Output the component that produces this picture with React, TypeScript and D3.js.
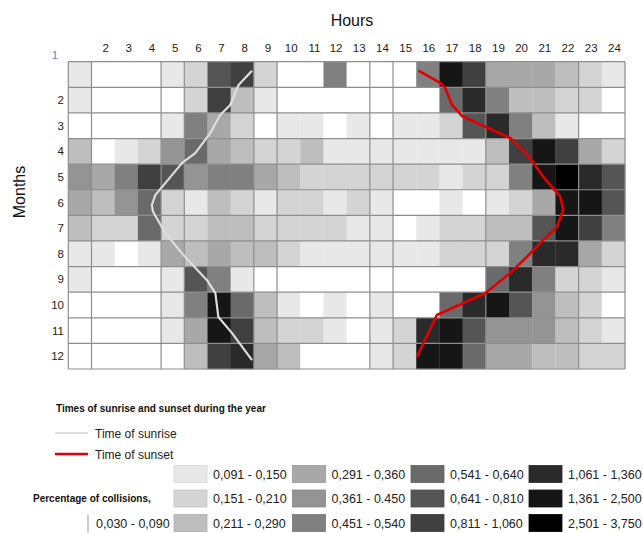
import React, { useEffect, useRef } from 'react';
import * as d3 from 'd3';

const hours = d3.range(1, 25);
const months = d3.range(1, 13);

// percentage of collisions per hour (1..24), one array per month
const jan = [0.12, 0.06, 0.06, 0.06, 0.12, 0.18, 0.72, 0.93, 0.18, 0.06, 0.06, 0.5, 0.06, 0.06, 0.06, 0.5, 1.9, 0.93, 0.33, 0.33, 0.33, 0.25, 0.18, 0.12];
const feb = [0.12, 0.06, 0.06, 0.06, 0.06, 0.18, 0.93, 0.25, 0.12, 0.06, 0.06, 0.06, 0.06, 0.06, 0.06, 0.06, 0.59, 1.2, 0.5, 0.25, 0.25, 0.18, 0.18, 0.06];
const mar = [0.06, 0.06, 0.06, 0.06, 0.12, 0.5, 0.33, 0.18, 0.06, 0.12, 0.12, 0.06, 0.12, 0.06, 0.12, 0.12, 0.18, 0.72, 1.2, 0.5, 0.25, 0.12, 0.06, 0.06];
const apr = [0.25, 0.06, 0.12, 0.18, 0.4, 0.59, 0.33, 0.25, 0.18, 0.18, 0.25, 0.12, 0.12, 0.12, 0.12, 0.12, 0.12, 0.12, 0.25, 0.93, 1.9, 0.93, 0.33, 0.18];
const may = [0.4, 0.33, 0.5, 0.93, 0.72, 0.4, 0.5, 0.5, 0.33, 0.25, 0.18, 0.18, 0.18, 0.18, 0.18, 0.18, 0.12, 0.18, 0.18, 0.5, 1.9, 3.1, 1.2, 0.72];
const jun = [0.33, 0.25, 0.4, 0.59, 0.18, 0.12, 0.25, 0.18, 0.12, 0.18, 0.18, 0.12, 0.18, 0.12, 0.06, 0.06, 0.12, 0.06, 0.12, 0.18, 0.33, 1.9, 1.9, 0.72];
const jul = [0.25, 0.18, 0.18, 0.59, 0.18, 0.18, 0.25, 0.25, 0.18, 0.18, 0.18, 0.18, 0.12, 0.12, 0.06, 0.12, 0.18, 0.18, 0.25, 0.25, 0.72, 1.9, 0.93, 0.5];
const aug = [0.12, 0.12, 0.06, 0.12, 0.33, 0.25, 0.33, 0.25, 0.25, 0.18, 0.12, 0.12, 0.12, 0.12, 0.12, 0.12, 0.18, 0.18, 0.18, 0.5, 1.2, 1.2, 0.33, 0.18];
const sep = [0.12, 0.06, 0.06, 0.06, 0.12, 0.72, 0.5, 0.12, 0.06, 0.06, 0.06, 0.06, 0.06, 0.06, 0.06, 0.06, 0.06, 0.06, 0.59, 1.2, 0.5, 0.18, 0.18, 0.12];
const oct = [0.06, 0.06, 0.06, 0.06, 0.12, 0.5, 1.9, 0.59, 0.25, 0.12, 0.06, 0.12, 0.06, 0.12, 0.06, 0.06, 0.59, 1.2, 1.9, 0.72, 0.4, 0.25, 0.18, 0.06];
const nov = [0.06, 0.06, 0.06, 0.06, 0.12, 0.33, 1.9, 0.93, 0.25, 0.18, 0.18, 0.12, 0.06, 0.12, 0.18, 1.2, 1.9, 0.72, 0.4, 0.4, 0.4, 0.25, 0.18, 0.12];
const dec = [0.06, 0.06, 0.06, 0.06, 0.06, 0.25, 0.93, 1.2, 0.33, 0.25, 0.06, 0.06, 0.06, 0.12, 0.18, 1.9, 1.9, 0.59, 0.33, 0.33, 0.25, 0.25, 0.18, 0.18];
const values = [jan, feb, mar, apr, may, jun, jul, aug, sep, oct, nov, dec];

// class breaks and their labels
const breaks = [0.091, 0.151, 0.211, 0.291, 0.361, 0.451, 0.541, 0.641, 0.811, 1.061, 1.361, 2.501];
const shades = ['#ffffff', '#e8e8e8', '#d4d4d4', '#bebebe', '#a8a8a8', '#949494', '#808080', '#6a6a6a', '#555555', '#404040', '#2a2a2a', '#161616', '#000000'];
const classLabels = ['0,030 - 0,090', '0,091 - 0,150', '0,151 - 0,210', '0,211 - 0,290', '0,291 - 0,360', '0,361 - 0.450', '0,451 - 0,540', '0,541 - 0,640', '0,641 - 0,810', '0,811 - 1,060', '1,061 - 1,360', '1,361 - 2,500', '2,501 - 3,750'];

// sunrise / sunset: [position in months from top of Jan, hour]
const sunrise = [[0.35, 7.92], [0.91, 7.34], [1.69, 6.98], [2.08, 6.55], [2.79, 6.12], [3.57, 5.47], [3.96, 4.9], [5.21, 3.75], [5.6, 3.6], [5.85, 3.65], [6.69, 4.18], [7.55, 4.96], [8.53, 5.98], [9.04, 6.34], [9.97, 6.47], [10.6, 7.06], [11.65, 7.92]];
const sunset = [[0.35, 15.1], [0.83, 16.03], [1.03, 16.25], [1.69, 16.54], [2.12, 16.97], [2.54, 17.97], [2.98, 19.05], [3.76, 19.91], [4.49, 20.47], [5.27, 21.21], [5.79, 21.34], [6.45, 21.06], [7.08, 20.34], [7.62, 19.77], [8.25, 19.05], [8.79, 18.32], [9.04, 17.97], [9.89, 15.89], [11.52, 15.03]];

// full-height grid lines sit only at these hour boundaries
const vLines = [0, 1, 4, 5, 8, 9, 13, 14, 18, 22, 24];

const font = 'Liberation Sans, Arial, sans-serif';

export default function App() {
  const ref = useRef<SVGSVGElement>(null);

  useEffect(() => {
    const svg = d3.select(ref.current);
    svg.selectAll('*').remove();

    const x = d3.scaleLinear().domain([0, 24]).range([68.3, 625]);
    const y = d3.scaleLinear().domain([0, 12]).range([61.7, 369]);
    const color = d3.scaleThreshold<number, string>().domain(breaks).range(shades);
    const cw = x(1) - x(0);
    const ch = y(1) - y(0);

    const cells = [];
    values.forEach((row, mi) => row.forEach((v, hi) => cells.push({ m: mi, h: hi, v })));

    svg.append('g')
      .selectAll('rect')
      .data(cells)
      .join('rect')
      .attr('x', d => x(d.h))
      .attr('y', d => y(d.m))
      .attr('width', cw + 0.3)
      .attr('height', ch + 0.3)
      .attr('fill', d => color(d.v));

    const grid = svg.append('g').attr('stroke', '#8e8e8e').attr('stroke-width', 1.2);
    d3.range(0, 13).forEach(m => {
      grid.append('line').attr('x1', x(0)).attr('x2', x(24)).attr('y1', y(m)).attr('y2', y(m));
    });
    vLines.forEach(h => {
      grid.append('line').attr('x1', x(h)).attr('x2', x(h)).attr('y1', y(0)).attr('y2', y(12));
    });

    const line = d3.line<number[]>().x(d => x(d[1])).y(d => y(d[0]));
    svg.append('path').attr('d', line(sunrise)).attr('fill', 'none')
      .attr('stroke', '#dddddd').attr('stroke-width', 2.2).attr('stroke-linejoin', 'round');
    svg.append('path').attr('d', line(sunset)).attr('fill', 'none')
      .attr('stroke', '#e30000').attr('stroke-width', 2.6).attr('stroke-linejoin', 'round');

    // hour labels
    svg.append('g')
      .selectAll('text')
      .data(hours.slice(1))
      .join('text')
      .attr('x', d => x(d - 0.5) + (d < 12 ? 2.5 : 1))
      .attr('y', 52)
      .attr('text-anchor', 'middle')
      .attr('font-family', font)
      .attr('font-size', 11.5)
      .attr('fill', '#222')
      .text(d => d);

    svg.append('text').attr('x', 55).attr('y', 59).attr('text-anchor', 'middle')
      .attr('font-family', font).attr('font-size', 11.5).attr('fill', '#4a8fd0').text('1');

    // month labels
    svg.append('g')
      .selectAll('text')
      .data(months.slice(1))
      .join('text')
      .attr('x', 64)
      .attr('y', d => y(d - 0.5) + 4)
      .attr('text-anchor', 'end')
      .attr('font-family', font)
      .attr('font-size', 11.5)
      .attr('fill', '#222')
      .text(d => d);

    svg.append('text').attr('x', 352).attr('y', 26).attr('text-anchor', 'middle')
      .attr('font-family', font).attr('font-size', 16).attr('fill', '#111').text('Hours');
    svg.append('text').attr('transform', 'translate(25,192) rotate(-90)').attr('text-anchor', 'middle')
      .attr('font-family', font).attr('font-size', 16).attr('fill', '#111').text('Months');

    // legend
    const lg = svg.append('g').attr('font-family', font);
    lg.append('text').attr('x', 56).attr('y', 411.5).attr('font-size', 10).attr('font-weight', 'bold')
      .attr('fill', '#111').text('Times of sunrise and sunset during the year');
    lg.append('line').attr('x1', 55).attr('x2', 88).attr('y1', 433).attr('y2', 433)
      .attr('stroke', '#dddddd').attr('stroke-width', 2.2);
    lg.append('text').attr('x', 95).attr('y', 437.5).attr('font-size', 12).attr('fill', '#222').text('Time of sunrise');
    lg.append('line').attr('x1', 55).attr('x2', 88).attr('y1', 454).attr('y2', 454)
      .attr('stroke', '#e30000').attr('stroke-width', 2.6);
    lg.append('text').attr('x', 95).attr('y', 458.5).attr('font-size', 12).attr('fill', '#222').text('Time of sunset');
    lg.append('text').attr('x', 33).attr('y', 501.5).attr('font-size', 10).attr('font-weight', 'bold')
      .attr('fill', '#111').text('Percentage of collisions,');

    const colX = [174, 292.5, 411, 529];
    const rowY = [465.5, 490, 514.5];
    const items = d3.range(1, 13).map(i => ({
      i,
      bx: colX[Math.floor((i - 1) / 3)],
      by: rowY[(i - 1) % 3],
    }));
    items.unshift({ i: 0, bx: 55, by: rowY[2] });

    const it = lg.selectAll('g.item').data(items).join('g').attr('class', 'item');
    it.append('rect')
      .attr('x', d => d.bx).attr('y', d => d.by)
      .attr('width', 33).attr('height', 17)
      .attr('fill', d => shades[d.i])
      .attr('stroke', d => d.i === 0 ? 'none' : d3.color(shades[d.i]).darker(0.25).toString())
      .attr('stroke-width', 0.8);
    it.filter(d => d.i === 0).append('line')
      .attr('x1', d => d.bx + 33).attr('x2', d => d.bx + 33)
      .attr('y1', d => d.by).attr('y2', d => d.by + 18)
      .attr('stroke', '#999');
    it.append('text')
      .attr('x', d => d.bx + (d.i === 0 ? 41 : 39))
      .attr('y', d => d.by + 13)
      .attr('font-size', 12.5)
      .attr('fill', '#222')
      .text(d => classLabels[d.i]);
  }, []);

  return (
    <svg ref={ref} width={643} height={533}
      style={{ position: 'absolute', left: 0, top: 0, background: '#fff' }} />
  );
}
